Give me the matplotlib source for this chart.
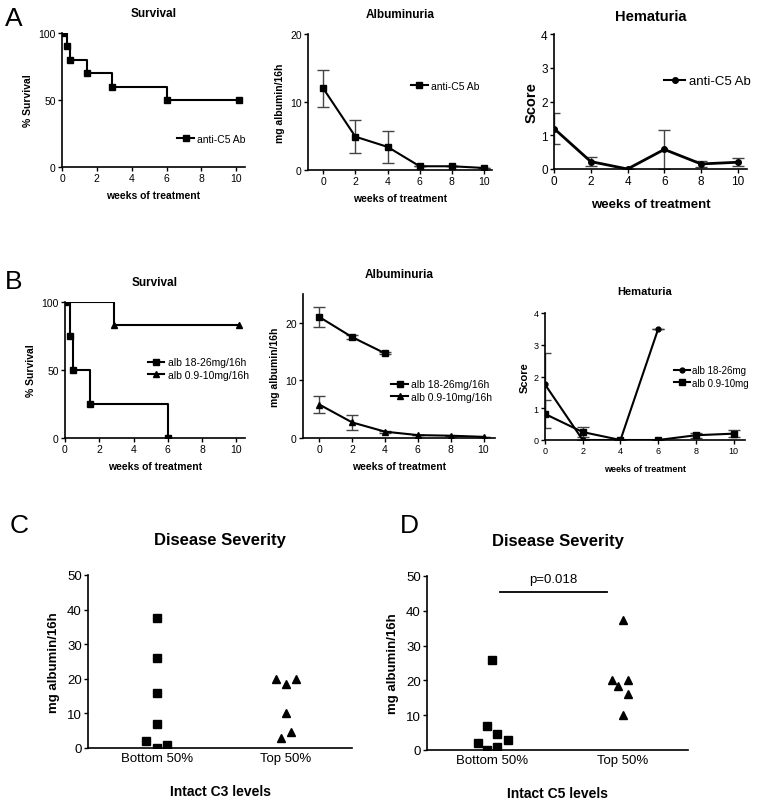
import matplotlib
matplotlib.use('Agg')
import matplotlib.pyplot as plt
from matplotlib.lines import Line2D

plt.rcParams['font.family'] = ['Liberation Sans', 'DejaVu Sans']

weeks = [0, 2, 4, 6, 8, 10]

# A - anti-C5 Ab
a_surv_x = [0, 0.3, 0.45, 1.45, 2.85, 6, 10.15]
a_surv_y = [100, 90, 80, 70, 60, 50, 50]
a_alb = [12, 4.9, 3.4, 0.55, 0.55, 0.3]
a_alb_err = [2.7, 2.4, 2.3, 0, 0, 0]
a_hem = [1.2, 0.22, 0, 0.58, 0.15, 0.2]
a_hem_err = [0.47, 0.13, 0, 0.58, 0.1, 0.12]

# B - split by albuminuria
b_hi_surv_x = [0, 0.3, 0.45, 1.45, 6]
b_hi_surv_y = [100, 75, 50, 25, 0]
b_lo_surv_x = [0, 2.85, 10.15]
b_lo_surv_y = [100, 83.3, 83.3]
b_hi_weeks = [0, 2, 4]
b_hi_alb = [21, 17.5, 14.7]
b_hi_alb_err = [1.7, 0.3, 0.2]
b_lo_alb = [5.8, 2.7, 1.1, 0.5, 0.4, 0.2]
b_lo_alb_err = [1.5, 1.3, 0.2, 0, 0, 0]
b_hi_hem_weeks = [0, 2, 4, 6]
b_hi_hem = [1.75, 0, 0, 3.5]
b_hi_hem_err = [1.0, 0, 0, 0]
b_lo_hem = [0.82, 0.25, 0, 0, 0.15, 0.2]
b_lo_hem_err = [0.45, 0.17, 0, 0, 0.08, 0.12]

# C / D - scatter by group (x = group index + jitter)
c_bot_x = [-0.085, 0, 0, 0, 0, 0, 0.08]
c_bot_y = [2, 37.5, 26, 16, 7, 0, 1]
c_top_x = [0.92, 1, 1.08, 1, 0.96, 1.04]
c_top_y = [20, 18.5, 20, 10, 3, 4.5]
d_bot_x = [-0.11, -0.04, -0.04, 0, 0.04, 0.04, 0.12]
d_bot_y = [2, 0, 7, 26, 1, 4.7, 3]
d_top_x = [0.92, 0.96, 1, 1, 1.04, 1.04]
d_top_y = [20, 18.3, 37.5, 10, 20, 16]
groups = ['Bottom 50%', 'Top 50%']

W, H = 764, 803
fig = plt.figure(figsize=(W / 100, H / 100), dpi=100)


def box(l, t, r, b):
    return [l / W, 1 - b / H, (r - l) / W, (b - t) / H]


def style(ax, fs=7.5):
    for s in ['top', 'right']:
        ax.spines[s].set_visible(False)
    for s in ['left', 'bottom']:
        ax.spines[s].set_linewidth(1.2)
    ax.tick_params(direction='out', length=3, width=1, labelsize=fs, pad=1.5)


def leg(ax, items, x, y, fs=7.5):
    handles = [Line2D([], [], color='k', marker=m, ms=ms, lw=1.5) for m, ms, _ in items]
    labels = [lab for _, _, lab in items]
    ax.legend(handles, labels, loc='center left', bbox_to_anchor=(x, y), frameon=False,
              fontsize=fs, handlelength=1.6, handletextpad=0.3, borderpad=0,
              borderaxespad=0, labelspacing=0.25)


lw = 1.5
eb = dict(ecolor='#444444', elinewidth=1, capsize=4, capthick=1)

# ---- A
ax = fig.add_axes(box(62, 34, 245, 168))
style(ax)
ax.step(a_surv_x, a_surv_y, where='post', color='k', lw=lw)
ax.plot(a_surv_x, a_surv_y, 'ks', ms=4.5, ls='none')
leg(ax, [('s', 4.5, 'anti-C5 Ab')], 0.63, 0.21)
ax.set_xlim(0, 10.5)
ax.set_ylim(0, 100)
ax.set_xticks([0, 2, 4, 6, 8, 10])
ax.set_yticks([0, 50, 100])
ax.set_title('Survival', fontsize=8.5, fontweight='bold', pad=12)
ax.set_xlabel('weeks of treatment', fontsize=7.5, fontweight='bold', labelpad=5)
ax.set_ylabel('% Survival', fontsize=7.5, fontweight='bold', labelpad=4)

ax = fig.add_axes(box(308, 35, 492, 171))
style(ax)
ax.errorbar(weeks, a_alb, yerr=a_alb_err, fmt='ks-', ms=4.5, lw=lw, **eb)
leg(ax, [('s', 4.5, 'anti-C5 Ab')], 0.56, 0.62)
ax.set_xlim(-0.95, 10.5)
ax.set_ylim(0, 20)
ax.set_xticks(weeks)
ax.set_yticks([0, 10, 20])
ax.set_title('Albuminuria', fontsize=8.5, fontweight='bold', pad=12)
ax.set_xlabel('weeks of treatment', fontsize=7.5, fontweight='bold', labelpad=5)
ax.set_ylabel('mg albumin/16h', fontsize=7.5, fontweight='bold', labelpad=4)

ax = fig.add_axes(box(554, 35, 747, 170))
style(ax, 8.5)
ax.errorbar(weeks, a_hem, yerr=a_hem_err, fmt='ko-', ms=4, lw=2, **eb)
leg(ax, [('o', 4, 'anti-C5 Ab')], 0.57, 0.65, 9.5)
ax.set_xlim(0, 10.5)
ax.set_ylim(0, 4)
ax.set_xticks(weeks)
ax.set_yticks([0, 1, 2, 3, 4])
ax.set_title('Hematuria', fontsize=10.5, fontweight='bold', pad=10)
ax.set_xlabel('weeks of treatment', fontsize=9.5, fontweight='bold', labelpad=8)
ax.set_ylabel('Score', fontsize=10.5, fontweight='bold', labelpad=2)

# ---- B
ax = fig.add_axes(box(65, 303, 245, 439))
style(ax)
ax.step(b_hi_surv_x, b_hi_surv_y, where='post', color='k', lw=lw)
ax.step(b_lo_surv_x, b_lo_surv_y, where='post', color='k', lw=lw)
ax.plot(b_hi_surv_x, b_hi_surv_y, 'ks', ms=4.5, ls='none')
ax.plot(b_lo_surv_x[1:], b_lo_surv_y[1:], 'k^', ms=4.5, ls='none')
leg(ax, [('s', 4.5, 'alb 18-26mg/16h'), ('^', 4.5, 'alb 0.9-10mg/16h')], 0.46, 0.51)
ax.set_xlim(0, 10.5)
ax.set_ylim(0, 100)
ax.set_xticks([0, 2, 4, 6, 8, 10])
ax.set_yticks([0, 50, 100])
ax.set_title('Survival', fontsize=8.5, fontweight='bold', pad=12)
ax.set_xlabel('weeks of treatment', fontsize=7.5, fontweight='bold', labelpad=5)
ax.set_ylabel('% Survival', fontsize=7.5, fontweight='bold', labelpad=4)

ax = fig.add_axes(box(303, 295, 495, 439))
style(ax)
ax.errorbar(b_hi_weeks, b_hi_alb, yerr=b_hi_alb_err, fmt='ks-', ms=4.5, lw=lw, **eb)
ax.errorbar(weeks, b_lo_alb, yerr=b_lo_alb_err, fmt='k^-', ms=4.5, lw=lw, **eb)
leg(ax, [('s', 4.5, 'alb 18-26mg/16h'), ('^', 4.5, 'alb 0.9-10mg/16h')], 0.46, 0.33)
ax.set_xlim(-1, 10.7)
ax.set_ylim(0, 25)
ax.set_xticks(weeks)
ax.set_yticks([0, 10, 20])
ax.set_title('Albuminuria', fontsize=8.5, fontweight='bold', pad=12)
ax.set_xlabel('weeks of treatment', fontsize=7.5, fontweight='bold', labelpad=5)
ax.set_ylabel('mg albumin/16h', fontsize=7.5, fontweight='bold', labelpad=4)

ax = fig.add_axes(box(545, 314, 745, 441))
style(ax, 6.5)
ax.errorbar(b_hi_hem_weeks, b_hi_hem, yerr=b_hi_hem_err, fmt='ko-', ms=3.5, lw=lw, **eb)
ax.errorbar(weeks, b_lo_hem, yerr=b_lo_hem_err, fmt='ks-', ms=4, lw=lw, **eb)
leg(ax, [('o', 3.5, 'alb 18-26mg'), ('s', 4, 'alb 0.9-10mg')], 0.645, 0.5, 7)
ax.set_xlim(0, 10.6)
ax.set_ylim(0, 4)
ax.set_xticks(weeks)
ax.set_yticks([0, 1, 2, 3, 4])
ax.set_title('Hematuria', fontsize=8, fontweight='bold', pad=14)
ax.set_xlabel('weeks of treatment', fontsize=6.5, fontweight='bold', labelpad=6)
ax.set_ylabel('Score', fontsize=8, fontweight='bold', labelpad=3)

# ---- C
ax = fig.add_axes(box(88, 576, 352, 749))
style(ax, 9.5)
ax.plot(c_bot_x, c_bot_y, 'ks', ms=6, ls='none')
ax.plot(c_top_x, c_top_y, 'k^', ms=6, ls='none')
ax.set_xlim(-0.53, 1.51)
ax.set_ylim(0, 50)
ax.set_yticks([0, 10, 20, 30, 40, 50])
ax.set_xticks([0, 1])
ax.set_xticklabels(groups)
ax.tick_params(axis='x', length=0, pad=3)
ax.set_title('Disease Severity', fontsize=12, fontweight='bold', pad=22)
ax.set_xlabel('Intact C3 levels', fontsize=10, fontweight='bold', labelpad=14)
ax.set_ylabel('mg albumin/16h', fontsize=9.5, fontweight='bold', labelpad=5)

# ---- D
ax = fig.add_axes(box(427, 577, 688, 751))
style(ax, 9.5)
ax.plot(d_bot_x, d_bot_y, 'ks', ms=6, ls='none')
ax.plot(d_top_x, d_top_y, 'k^', ms=6, ls='none')
ax.plot([0.06, 0.88], [45.5, 45.5], color='k', lw=1.3)
ax.text(0.47, 47.5, 'p=0.018', ha='center', va='bottom', fontsize=9.5)
ax.set_xlim(-0.5, 1.5)
ax.set_ylim(0, 50)
ax.set_yticks([0, 10, 20, 30, 40, 50])
ax.set_xticks([0, 1])
ax.set_xticklabels(groups)
ax.tick_params(axis='x', length=0, pad=3)
ax.set_title('Disease Severity', fontsize=12, fontweight='bold', pad=22)
ax.set_xlabel('Intact C5 levels', fontsize=10, fontweight='bold', labelpad=14)
ax.set_ylabel('mg albumin/16h', fontsize=9.5, fontweight='bold', labelpad=5)

# panel letters
for letter, x, y in [('A', 5, 19), ('B', 5, 282), ('C', 10, 526), ('D', 400, 526)]:
    fig.text(x / W, 1 - y / H, letter, fontsize=19, va='center', ha='left')

fig.savefig('out.png', dpi=100, facecolor='white')
